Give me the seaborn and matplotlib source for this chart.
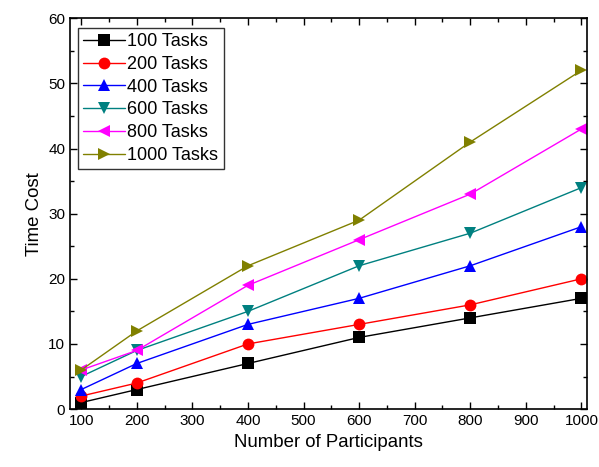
import numpy as np
import pandas as pd
import matplotlib
matplotlib.use('Agg')
import matplotlib.pyplot as plt
import seaborn as sns
from matplotlib.ticker import MultipleLocator

# data
participants = [100, 200, 400, 600, 800, 1000]
tasks_100 = [1, 3, 7, 11, 14, 17]
tasks_200 = [2, 4, 10, 13, 16, 20]
tasks_400 = [3, 7, 13, 17, 22, 28]
tasks_600 = [5, 9, 15, 22, 27, 34]
tasks_800 = [6, 9, 19, 26, 33, 43]
tasks_1000 = [6, 12, 22, 29, 41, 52]

series = {
    '100 Tasks': tasks_100,
    '200 Tasks': tasks_200,
    '400 Tasks': tasks_400,
    '600 Tasks': tasks_600,
    '800 Tasks': tasks_800,
    '1000 Tasks': tasks_1000,
}
df = pd.DataFrame([
    {'Participants': p, 'Time Cost': v, 'Series': name}
    for name, vals in series.items() for p, v in zip(participants, vals)
])

sns.set_style('ticks')
plt.rcParams['font.family'] = ['Liberation Sans', 'DejaVu Sans']
plt.rcParams['text.color'] = 'black'
plt.rcParams['axes.labelcolor'] = 'black'
plt.rcParams['xtick.color'] = 'black'
plt.rcParams['ytick.color'] = 'black'
plt.rcParams['axes.edgecolor'] = 'black'

colors = ['#000000', '#ff0000', '#0000ff', '#008080', '#ff00ff', '#808000']
markers = ['s', 'o', '^', 'v', '<', '>']

fig = plt.figure(figsize=(5.99, 4.67), dpi=100)
ax = fig.add_axes([0.117, 0.124, 0.863, 0.837])

sns.lineplot(data=df, x='Participants', y='Time Cost', hue='Series', style='Series',
             palette=colors, markers=markers, dashes=False, markersize=8.5,
             markeredgewidth=0, linewidth=1, ax=ax)

ax.set_xlim(80, 1010)
ax.set_ylim(0, 60)
ax.xaxis.set_major_locator(MultipleLocator(100))
ax.xaxis.set_minor_locator(MultipleLocator(50))
ax.yaxis.set_major_locator(MultipleLocator(10))
ax.yaxis.set_minor_locator(MultipleLocator(5))
ax.tick_params(which='both', direction='in', top=True, right=True, labelsize=11, width=1)
ax.tick_params(which='major', length=5)
ax.tick_params(which='minor', length=3)
for s in ax.spines.values():
    s.set_linewidth(1.2)
ax.set_xlabel('Number of Participants', fontsize=13.4)
ax.set_ylabel('Time Cost', fontsize=13.4)

leg = ax.legend(loc='upper left', bbox_to_anchor=(0.008, 0.985), fontsize=13,
                frameon=True, fancybox=False, edgecolor='black', handlelength=2.3,
                handletextpad=0.15, borderpad=0.3, labelspacing=0.32, borderaxespad=0.2)
leg.get_frame().set_linewidth(1)
for h in leg.legend_handles:
    h.set_markersize(8.5)
    h.set_markeredgewidth(0)

fig.savefig('out.png', dpi=100)
